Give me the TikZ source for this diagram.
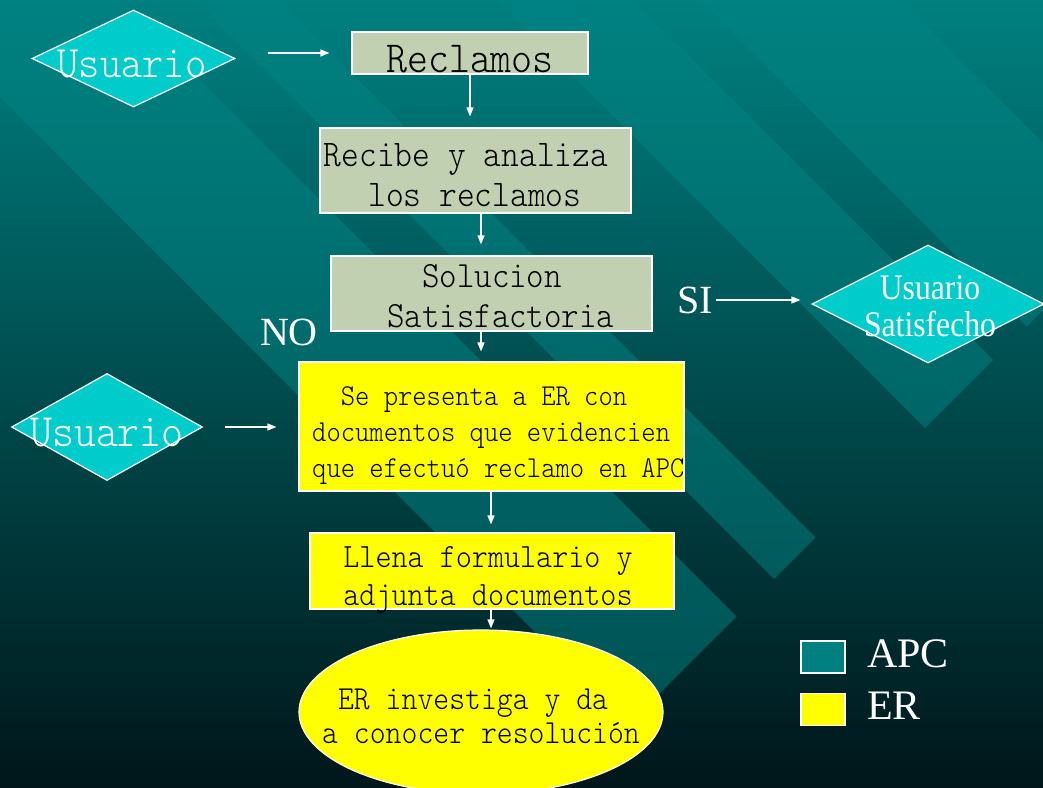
\documentclass[tikz,border=0pt]{standalone}
\usepackage{fontspec}
\usetikzlibrary{shapes.geometric,arrows.meta}
\newfontfamily\monof[FakeStretch=0.9]{lmmonolt10-regular.otf}
\newfontfamily\timesf{Liberation Serif}
\newfontfamily\timescf[FakeStretch=0.88]{Liberation Serif}
\definecolor{bgtop}{RGB}{0,128,128}
\definecolor{bgmid}{RGB}{0,92,94}
\definecolor{bgbot}{RGB}{0,22,26}
\definecolor{bandc}{RGB}{0,132,132}
\definecolor{cyanD}{RGB}{0,204,204}
\definecolor{sage}{RGB}{192,208,176}
\definecolor{yel}{RGB}{255,255,0}
\definecolor{tealsq}{RGB}{0,128,128}
\tikzset{
  band/.style={fill=bandc, fill opacity=0.5},
  dia/.style={diamond, draw=white, line width=1.2pt, fill=cyanD, inner sep=0pt},
  sagebox/.style={rectangle, draw=white, line width=1.2pt, fill=sage, inner sep=0pt, text=black, align=center},
  yelbox/.style={rectangle, draw=white, line width=1.2pt, fill=yel, inner sep=0pt, text=black, align=center},
  arr/.style={draw=white, line width=1.3pt, -{Triangle[length=9pt,width=7pt]}},
  wlabel/.style={text=white, inner sep=0pt},
  blabel/.style={text=black, inner sep=0pt, align=center},
  legsq/.style={rectangle, draw=white, line width=1.2pt, inner sep=0pt, minimum width=44pt, minimum height=32pt}
}
\begin{document}
\begin{tikzpicture}[x=1pt,y=-1pt]
\useasboundingbox (0,0) rectangle (1043,787);
\shade[top color=bgtop, middle color=bgmid, bottom color=bgbot] (0,0) rectangle (1043,787);
\begin{scope}
\clip (0,0) rectangle (1043,787);
\fill[band] (120,0) -- (736.5,616.5) -- (628,725) -- (0,97) -- (0,0) -- cycle;
\fill[band] (278,0) -- (815.5,537.5) -- (774,579) -- (195,0) -- cycle;
\fill[band] (633,0) -- (993,360) -- (925,428) -- (497,0) -- cycle;
\fill[band] (900,0) -- (1126.5,226.5) -- (1026.5,326.5) -- (700,0) -- cycle;
\end{scope}

% diamonds
\node[dia, minimum width=203pt, minimum height=97pt] (u1) at (133.5,58.5) {};
\node[wlabel, font=\monof\fontsize{45}{48}\selectfont, anchor=base] (u1t) at (132,77) {Usuario};
\node[dia, minimum width=191pt, minimum height=107pt] (u2) at (107,427) {};
\node[wlabel, font=\monof\fontsize{46.5}{48}\selectfont, anchor=base] (u2t) at (107,446) {Usuario};
\node[dia, minimum width=232pt, minimum height=118pt] (sat) at (928,304) {};
\node[wlabel, font=\timescf\fontsize{36}{37}\selectfont, align=center] (satt) at (930,306) {Usuario\\Satisfecho};

% boxes
\node[sagebox, minimum width=236pt, minimum height=42pt] (rec) at (470,53) {};
\node[blabel, font=\monof\fontsize{44.4}{46}\selectfont, anchor=base] (rect) at (470,72) {Reclamos};
\node[sagebox, minimum width=311pt, minimum height=85pt] (rcb) at (475.5,170.5) {};
\node[blabel, font=\monof\fontsize{37.6}{40}\selectfont] (rcbt) at (466,175) {Recibe y analiza\\~los reclamos};
\node[sagebox, minimum width=321pt, minimum height=75pt] (sol) at (491.5,293.5) {};
\node[blabel, font=\monof\fontsize{37}{40}\selectfont] (solt) at (492,296) {Solucion\\~Satisfactoria};
\node[yelbox, minimum width=385pt, minimum height=129pt] (y1) at (491.5,426.5) {};
\node[blabel, align=left, anchor=west, font=\monof\fontsize{30.3}{36}\selectfont] (y1t) at (312,436) {~~Se presenta a ER con\\documentos que evidencien\\que efectuó reclamo en APC};
\node[yelbox, minimum width=364pt, minimum height=76pt] (y2) at (492,571) {};
\node[blabel, font=\monof\fontsize{34}{38}\selectfont] (y2t) at (488,580) {Llena formulario y\\adjunta documentos};
\node[ellipse, draw=white, line width=1.2pt, fill=yel, inner sep=0pt, minimum width=364pt, minimum height=164pt] (er) at (481,712) {};
\node[blabel, font=\monof\fontsize{33.6}{34}\selectfont] (ert) at (481,716) {ER investiga y da~\mbox{}\\a conocer resolución};

% labels
\node[wlabel, font=\timesf\fontsize{40}{44}\selectfont] (si) at (695,300) {SI};
\node[wlabel, font=\timesf\fontsize{40}{44}\selectfont] (no) at (289,332) {NO};

% connectors
\draw[arr, shorten <=32pt, shorten >=22pt] (u1.east |- rec.west) -- (rec.west);
\draw[arr, shorten >=11pt] (rec.south) -- (rec.south |- rcb.north);
\draw[arr, shorten >=11pt] ([xshift=5.5pt]rcb.south) -- ([xshift=5.5pt]rcb.south |- sol.north);
\draw[arr, shorten >=10pt] ([xshift=-10.5pt]sol.south) -- ([xshift=-10.5pt]sol.south |- y1.north);
\draw[arr, shorten <=3pt, shorten >=11pt] (si.east) -- (si.east -| sat.west);
\draw[arr, shorten <=22pt, shorten >=22pt] (u2.east) -- (u2.east -| y1.west);
\draw[arr, shorten >=8pt] ([xshift=-0.5pt]y1.south) -- ([xshift=-0.5pt]y1.south |- y2.north);
\draw[arr, shorten >=1pt] ([xshift=-1pt]y2.south) -- ([xshift=-1pt]y2.south |- er.north);

% legend
\node[legsq, fill=tealsq] (lapc) at (823,657) {};
\node[legsq, fill=yel] (ler) at (823,709.5) {};
\node[wlabel, font=\timesf\fontsize{42}{46}\selectfont, anchor=west] (lapct) at (867,654) {APC};
\node[wlabel, font=\timesf\fontsize{42}{46}\selectfont, anchor=west] (lert) at (867,706) {ER};
\end{tikzpicture}
\end{document}
